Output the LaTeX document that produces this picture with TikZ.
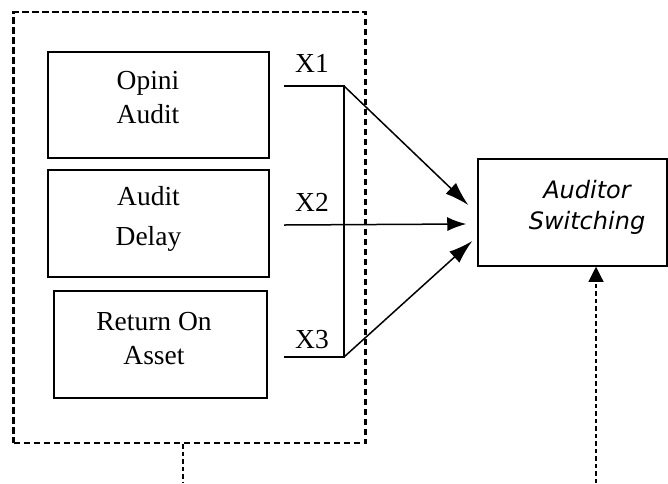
\documentclass[tikz,border=0pt]{standalone}
\usepackage{fontspec}
\setmainfont{Liberation Serif}
\newfontfamily\swfont{DejaVu Sans}
\usetikzlibrary{calc,arrows.meta}

\tikzset{
  box/.style={draw, line width=1.5pt, inner sep=0pt},
  lbl/.style={align=center, inner sep=0pt, font=\fontsize{27.5}{34}\selectfont},
  link/.style={line width=1.5pt},
  flow/.style={line width=1.5pt, -{Latex[length=24pt,width=15pt]}},
  feed/.style={line width=1.1pt, dash pattern=on 4.5pt off 3pt}
}

\begin{document}
\begin{tikzpicture}[x=1pt, y=-1pt]
\useasboundingbox (0,0) rectangle (668,483);
% group of independent variables
\node[draw, line width=2.4pt, dash pattern=on 6.5pt off 3.5pt, minimum width=352, minimum height=431] (grp) at (189.5,227.5) {};
\node[box, minimum width=221, minimum height=106] (op) at (158.5,105) {};
\node[box, minimum width=221, minimum height=107] (ad) at (158.5,223.5) {};
\node[box, minimum width=213, minimum height=107] (roa) at (160.5,344.5) {};
\node[lbl] (tOp) at (148,98) {Opini\\Audit};
\node[lbl] (tAd) at (148.5,219) {Audit\\[6pt]Delay};
\node[lbl] (tRoa) at (154,338.5) {Return On\\Asset};
% dependent variable
\node[box, minimum width=189, minimum height=107] (as) at (572.5,212.5) {};
\node[align=center, inner sep=0pt, font=\swfont\itshape\fontsize{24}{31}\selectfont] (tAs) at (587,207) {Auditor\\Switching};
% X1..X3 lines
\coordinate (x1) at (284,86);  \coordinate (j1) at (344,86);
\coordinate (x2) at (284,225);
\coordinate (x3) at (284,357); \coordinate (j3) at (344,357);
\foreach \n/\y in {1/72,2/211,3/348} \node[lbl, anchor=base] (lx\n) at (312,\y) {X\n};
\draw[link] (x1) -- (j1) -- (j3) -- (x3);
\draw[flow] (j1) -- ($(as.west)+(-9,-7.5)$);
\draw[flow, -{Latex[length=19pt,width=14pt]}] (x2) -- ($(as.west)+(-11,11.5)$);
\draw[flow] (j3) -- ($(as.west)+(-5,28.5)$);
% outside influences
\coordinate (lo) at (183,483);
\coordinate (ro) at (596,483);
\draw[feed] (lo |- grp.south) -- (lo);
\draw[feed, -{Triangle[length=15pt,width=15pt]}] (ro) -- (ro |- as.south);
\end{tikzpicture}
\end{document}
